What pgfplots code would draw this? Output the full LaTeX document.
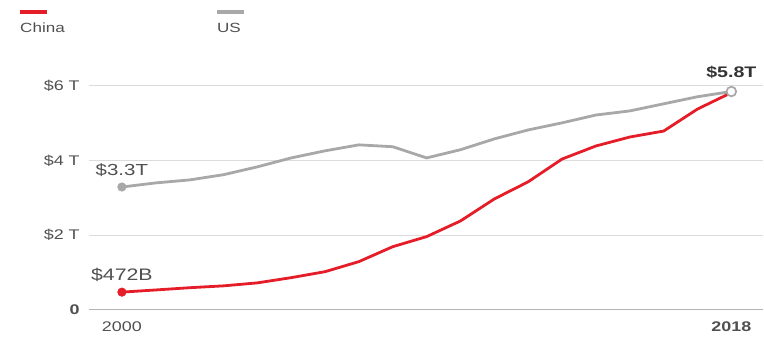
\documentclass[border=0pt]{standalone}
\usepackage{pgfplots}
\pgfplotsset{compat=1.18}
\usepackage{fontspec}
\setmainfont{Liberation Sans}[FakeStretch=1.28]
\definecolor{cred}{HTML}{E51D28}
\definecolor{cgray}{HTML}{A8A8A8}
\definecolor{cgrid}{HTML}{DCDCDC}
\definecolor{cbase}{HTML}{B4B4B4}
\definecolor{ctext}{HTML}{505050}
\begin{document}
\begin{tikzpicture}
\begin{scope}[x=0.75pt,y=0.75pt]
\useasboundingbox (0,0) rectangle (764,339);
% legend
\draw[cred, line width=2.3pt] (20,327) -- (47,327);
\node[anchor=west, inner sep=0pt, text=ctext, font=\fontsize{10}{11}\selectfont] at (20,311) {China};
\draw[cgray, line width=2.3pt] (217,327) -- (244,327);
\node[anchor=west, inner sep=0pt, text=ctext, font=\fontsize{10}{11}\selectfont] at (217,311) {US};
\end{scope}
\begin{axis}[
  at={(66.75pt,21.75pt)}, anchor=south west, scale only axis,
  width=506.25pt, height=168pt,
  xmin=1999.026, xmax=2018.944, ymin=0, ymax=6,
  clip=false,
  axis line style={draw=none},
  major tick length=0pt,
  ytick={0,2,4,6},
  yticklabels={\textbf{0},\$2 T,\$4 T,\$6 T},
  xtick={2000,2018},
  xticklabels={2000,\textbf{2018}},
  ymajorgrids, grid style={cgrid, line width=0.8pt},
  tick label style={text=ctext, font=\fontsize{10.5}{12}\selectfont, inner sep=0pt},
  yticklabel style={anchor=east},
  yticklabel shift=6.75pt,
  xticklabel style={anchor=north},
  xticklabel shift=9pt,
]
\draw[cbase, line width=1pt] (axis cs:1999.026,0) -- (axis cs:2018.944,0);
\addplot[cgray, line width=2.1pt, mark=none] coordinates {
(2000,3.29) (2001,3.40) (2002,3.48) (2003,3.62) (2004,3.83) (2005,4.07)
(2006,4.26) (2007,4.42) (2008,4.37) (2009,4.07) (2010,4.29) (2011,4.58)
(2012,4.82) (2013,5.01) (2014,5.22) (2015,5.33) (2016,5.52) (2017,5.71)
(2018,5.85)};
\addplot[cred, line width=2.1pt, mark=none] coordinates {
(2000,0.472) (2001,0.53) (2002,0.59) (2003,0.64) (2004,0.72) (2005,0.86)
(2006,1.02) (2007,1.29) (2008,1.69) (2009,1.96) (2010,2.38) (2011,2.97)
(2012,3.43) (2013,4.04) (2014,4.39) (2015,4.63) (2016,4.79) (2017,5.38)
(2018,5.82)};
\addplot[only marks, mark=*, mark size=3.2pt, cgray] coordinates {(2000,3.29)};
\addplot[only marks, mark=*, mark size=3.2pt, cred] coordinates {(2000,0.472)};
\addplot[only marks, mark=*, mark size=3.6pt, draw=cgray, fill=white, line width=1.3pt] coordinates {(2018,5.85)};
\node[text=ctext, font=\fontsize{12}{14}\selectfont, inner sep=0pt] at (axis cs:2000,3.29) [yshift=12.75pt] {\$3.3T};
\node[text=ctext, font=\fontsize{12.5}{14}\selectfont, inner sep=0pt] at (axis cs:2000,0.472) [yshift=12.75pt] {\$472B};
\node[text=black!80, font=\bfseries\fontsize{11.5}{13}\selectfont, inner sep=0pt] at (axis cs:2018,5.85) [yshift=14pt] {\$5.8T};
\end{axis}
\end{tikzpicture}
\end{document}
